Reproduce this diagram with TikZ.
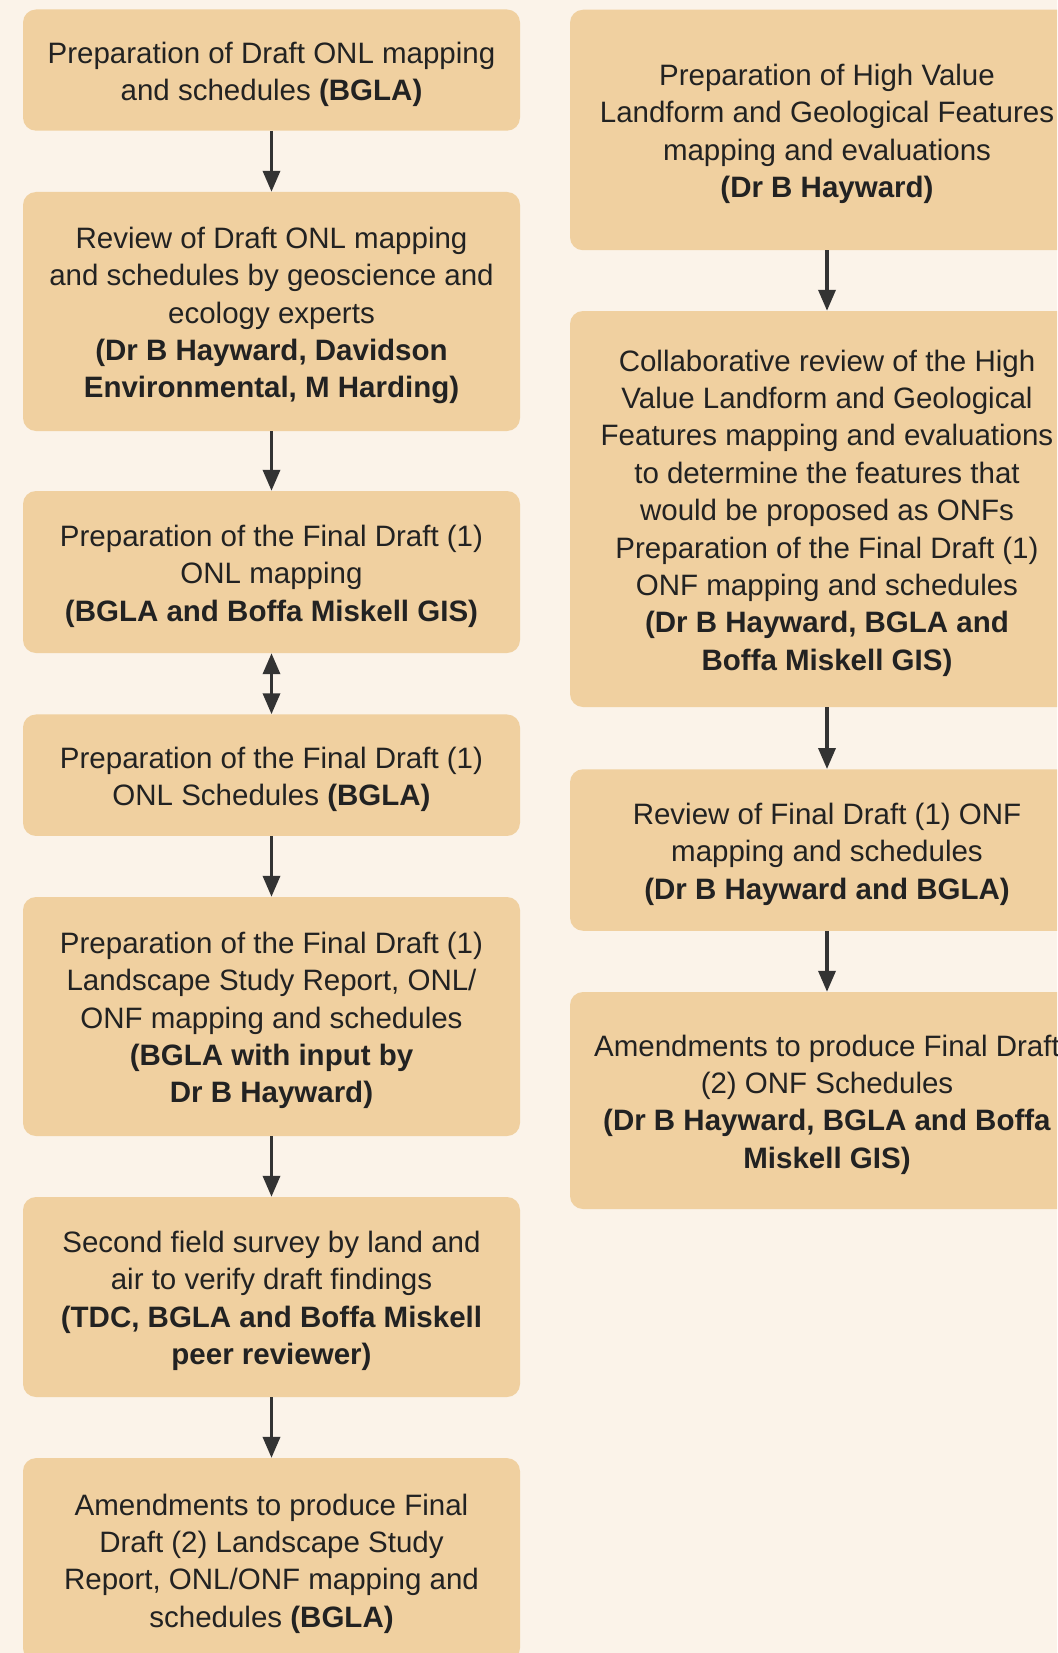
\documentclass[tikz,border=0pt]{standalone}
\usepackage{fontspec}
\setmainfont{Liberation Sans}
\usetikzlibrary{arrows.meta}
\definecolor{bgc}{HTML}{FBF3E9}
\definecolor{boxc}{HTML}{F0D0A0}
\definecolor{arc}{HTML}{333333}
\definecolor{txc}{HTML}{222222}
\begin{document}
\begin{tikzpicture}[x=1pt,y=-1pt,
  flowbox/.style={fill=boxc, rounded corners=13pt, inner sep=0pt},
  lbox/.style={flowbox, minimum width=497pt},
  rbox/.style={flowbox, minimum width=514pt},
  boxtext/.style={align=center, inner sep=0pt, text=txc, font=\fontsize{29.5}{37.4}\selectfont},
  flowarrow/.style={draw=arc, line width=3.5pt, -{Triangle[length=21pt,width=17pt]}},
  dflowarrow/.style={draw=arc, line width=3.5pt, {Triangle[length=21pt,width=17pt]}-{Triangle[length=21pt,width=17pt]}},
]
\useasboundingbox (0,0) rectangle (1057,1653);
\fill[bgc] (0,0) rectangle (1057,1653);
\clip (0,0) rectangle (1057,1653);

% left column boxes
\node[lbox, minimum height=121.2pt] (l1) at (271.5,70.1) {};
\node[lbox, minimum height=239pt] (l2) at (271.5,311.5) {};
\node[lbox, minimum height=162pt] (l3) at (271.5,572) {};
\node[lbox, minimum height=121.5pt] (l4) at (271.5,775.2) {};
\node[lbox, minimum height=239pt] (l5) at (271.5,1016.5) {};
\node[lbox, minimum height=200pt] (l6) at (271.5,1297) {};
\node[lbox, minimum height=203pt] (l7) at (271.5,1559.6) {};

% right column boxes
\node[rbox, minimum height=240.5pt] (r1) at (827,130) {};
\node[rbox, minimum height=396pt] (r2) at (827,509) {};
\node[rbox, minimum height=161.5pt] (r3) at (827,850) {};
\node[rbox, minimum height=217pt] (r4) at (827,1100.5) {};

% texts
\node[boxtext] (l1t) at ([yshift=-4pt]l1.center)
  {Preparation of Draft ONL mapping\\and schedules \textbf{(BGLA)}};
\node[boxtext] (l2t) at ([yshift=-4pt]l2.center)
  {Review of Draft ONL mapping\\and schedules by geoscience and\\ecology experts\\\textbf{(Dr B Hayward, Davidson}\\\textbf{Environmental, M Harding)}};
\node[boxtext] (l3t) at ([yshift=-4pt]l3.center)
  {Preparation of the Final Draft (1)\\ONL mapping\\\textbf{(BGLA and Boffa Miskell GIS)}};
\node[boxtext] (l4t) at ([yshift=-4pt]l4.center)
  {Preparation of the Final Draft (1)\\ONL Schedules \textbf{(BGLA)}};
\node[boxtext] (l5t) at ([yshift=-4pt]l5.center)
  {Preparation of the Final Draft (1)\\Landscape Study Report, ONL/\\ONF mapping and schedules\\\textbf{(BGLA with input by}\\\textbf{Dr B Hayward)}};
\node[boxtext] (l6t) at ([yshift=-4pt]l6.center)
  {Second field survey by land and\\air to verify draft findings\\\textbf{(TDC, BGLA and Boffa Miskell}\\\textbf{peer reviewer)}};
\node[boxtext] (l7t) at ([yshift=-4pt]l7.center)
  {Amendments to produce Final\\Draft (2) Landscape Study\\Report, ONL/ONF mapping and\\schedules \textbf{(BGLA)}};
\node[boxtext] (r1t) at ([yshift=-4pt]r1.center)
  {Preparation of High Value\\Landform and Geological Features\\mapping and evaluations\\\textbf{(Dr B Hayward)}};
\node[boxtext] (r2t) at ([yshift=-4pt]r2.center)
  {Collaborative review of the High\\Value Landform and Geological\\Features mapping and evaluations\\to determine the features that\\would be proposed as ONFs\\Preparation of the Final Draft (1)\\ONF mapping and schedules\\\textbf{(Dr B Hayward, BGLA and}\\\textbf{Boffa Miskell GIS)}};
\node[boxtext] (r3t) at ([yshift=-4pt]r3.center)
  {Review of Final Draft (1) ONF\\mapping and schedules\\\textbf{(Dr B Hayward and BGLA)}};
\node[boxtext] (r4t) at ([yshift=-4pt]r4.center)
  {Amendments to produce Final Draft\\(2) ONF Schedules\\\textbf{(Dr B Hayward, BGLA and Boffa}\\\textbf{Miskell GIS)}};

% connectors
\draw[flowarrow] (l1.south) -- (l2.north);
\draw[flowarrow] (l2.south) -- (l3.north);
\draw[dflowarrow] (l3.south) -- (l4.north);
\draw[flowarrow] (l4.south) -- (l5.north);
\draw[flowarrow] (l5.south) -- (l6.north);
\draw[flowarrow] (l6.south) -- (l7.north);
\draw[flowarrow] (r1.south) -- (r2.north);
\draw[flowarrow] (r2.south) -- (r3.north);
\draw[flowarrow] (r3.south) -- (r4.north);
\end{tikzpicture}
\end{document}
